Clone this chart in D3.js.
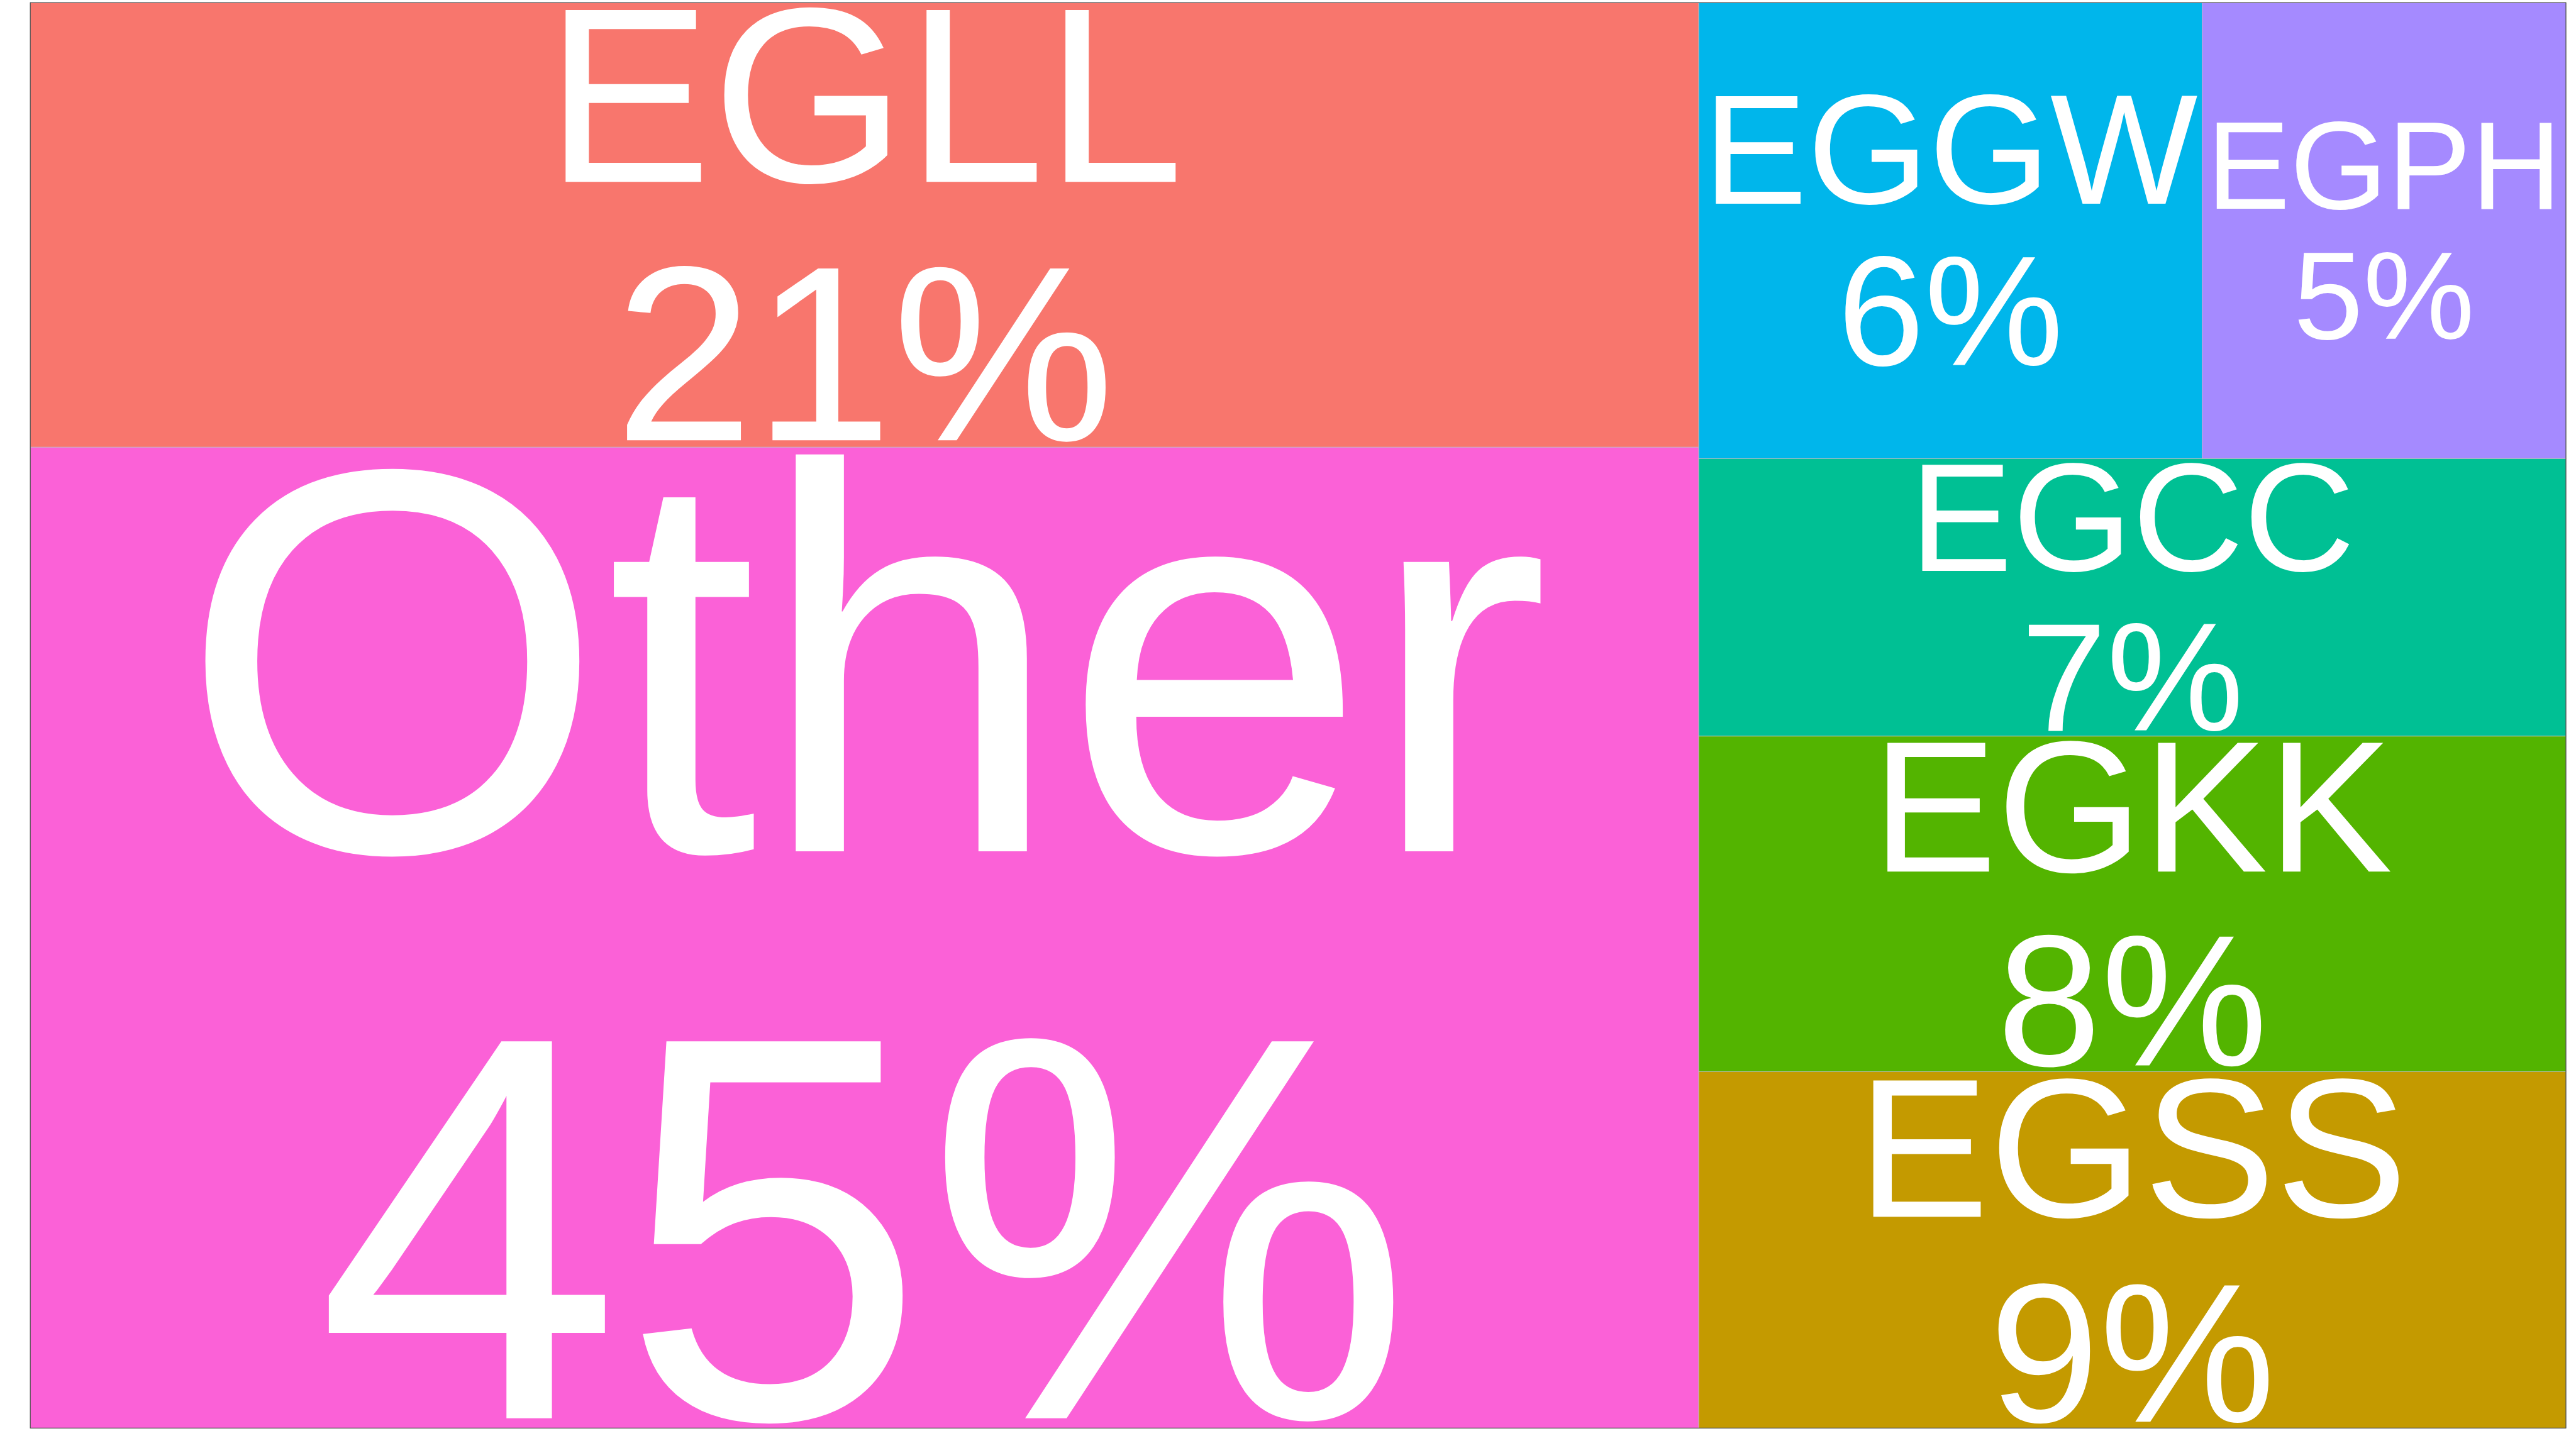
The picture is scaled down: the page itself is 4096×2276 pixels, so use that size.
<!DOCTYPE html>
<html>
<head>
<meta charset="utf-8">
<script src="https://cdn.jsdelivr.net/npm/d3@7"></script>
<style>
  html, body { margin: 0; padding: 0; background: #ffffff; }
  svg { display: block; }
</style>
</head>
<body>
<svg id="chart" width="4096" height="2276"></svg>
<script>
// ---- data ----
const airports = ["EGLL", "Other", "EGGW", "EGPH", "EGCC", "EGKK", "EGSS"];
const shares   = [20.52, 45.28, 6.35, 4.59, 6.66, 8.05, 8.55];   // percent of total
const colours  = ["#F8766D", "#FB61D7", "#00B6EB", "#A58AFF", "#00C094", "#53B400", "#C49A00"];
// grouping of tiles into the reference's arrangement
const leftColumn  = ["EGLL", "Other"];
const rightColumn = [["EGGW", "EGPH"], "EGCC", "EGKK", "EGSS"];

// ---- geometry ----
const S = 4096 / 7086;                 // reference -> window scale
const panel = { x: 83.3 * S, y: 7.3 * S, w: 6975 * S, h: 3922 * S };
const PAD = 12 * S;                    // text padding inside each tile
const LH = 1.035;                      // line spacing in em
const FONT = "'Liberation Sans', Arial, Helvetica, sans-serif";

const valueOf = name => shares[airports.indexOf(name)];
const leaf = name => ({ name, value: valueOf(name) });
const tree = {
  name: "root",
  children: [
    { name: "left", children: leftColumn.map(leaf) },
    { name: "right", children: rightColumn.map(d => Array.isArray(d)
        ? { name: "row", children: d.map(leaf) } : leaf(d)) }
  ]
};

const root = d3.hierarchy(tree).sum(d => d.value || 0);
d3.treemap().size([panel.w, panel.h]).tile(d3.treemapSliceDice).round(false)(root);

const colour = d3.scaleOrdinal().domain(airports).range(colours);
const pct = d3.format(".0f");

const svg = d3.select("#chart");
const g = svg.append("g").attr("transform", `translate(${panel.x},${panel.y})`);

const leaves = root.leaves();

g.selectAll("rect.tile")
  .data(leaves)
  .join("rect")
  .attr("class", "tile")
  .attr("x", d => d.x0)
  .attr("y", d => d.y0)
  .attr("width", d => d.x1 - d.x0)
  .attr("height", d => d.y1 - d.y0)
  .attr("fill", d => colour(d.data.name))
  .attr("stroke", "#BEBEBE")
  .attr("stroke-width", 0.8);

// outer frame
g.append("rect")
  .attr("x", 0).attr("y", 0)
  .attr("width", panel.w).attr("height", panel.h)
  .attr("fill", "none")
  .attr("stroke", "#333333")
  .attr("stroke-width", 1);

// ---- text fitting (grow to fill tile) ----
const cvs = document.createElement("canvas");
const ctx = cvs.getContext("2d");
const REF = 100;
ctx.font = `${REF}px ${FONT}`;

function fit(lines, w, h) {
  let top = Infinity, bottom = -Infinity, width = 0;
  lines.forEach((t, i) => {
    const m = ctx.measureText(t);
    const asc = m.actualBoundingBoxAscent, desc = m.actualBoundingBoxDescent;
    top = Math.min(top, i * LH * REF - asc);
    bottom = Math.max(bottom, i * LH * REF + desc);
    width = Math.max(width, m.width);
  });
  const k = Math.min((w - 2 * PAD) / width, (h - 2 * PAD) / (bottom - top));
  return { size: k * REF, top: top * k, bottom: bottom * k };
}

const labels = g.selectAll("text.lab")
  .data(leaves)
  .join("text")
  .attr("class", "lab")
  .attr("fill", "#ffffff")
  .attr("font-family", FONT)
  .attr("text-anchor", "middle");

labels.each(function(d) {
  const lines = [d.data.name, pct(d.data.value) + "%"];
  const w = d.x1 - d.x0, h = d.y1 - d.y0;
  const f = fit(lines, w, h);
  const cx = (d.x0 + d.x1) / 2, cy = (d.y0 + d.y1) / 2;
  const base0 = cy - (f.bottom - f.top) / 2 - f.top;
  const t = d3.select(this).attr("font-size", f.size);
  t.selectAll("tspan")
    .data(lines)
    .join("tspan")
    .attr("x", cx)
    .attr("y", (s, i) => base0 + i * LH * f.size)
    .text(s => s);
});
</script>
</body>
</html>
